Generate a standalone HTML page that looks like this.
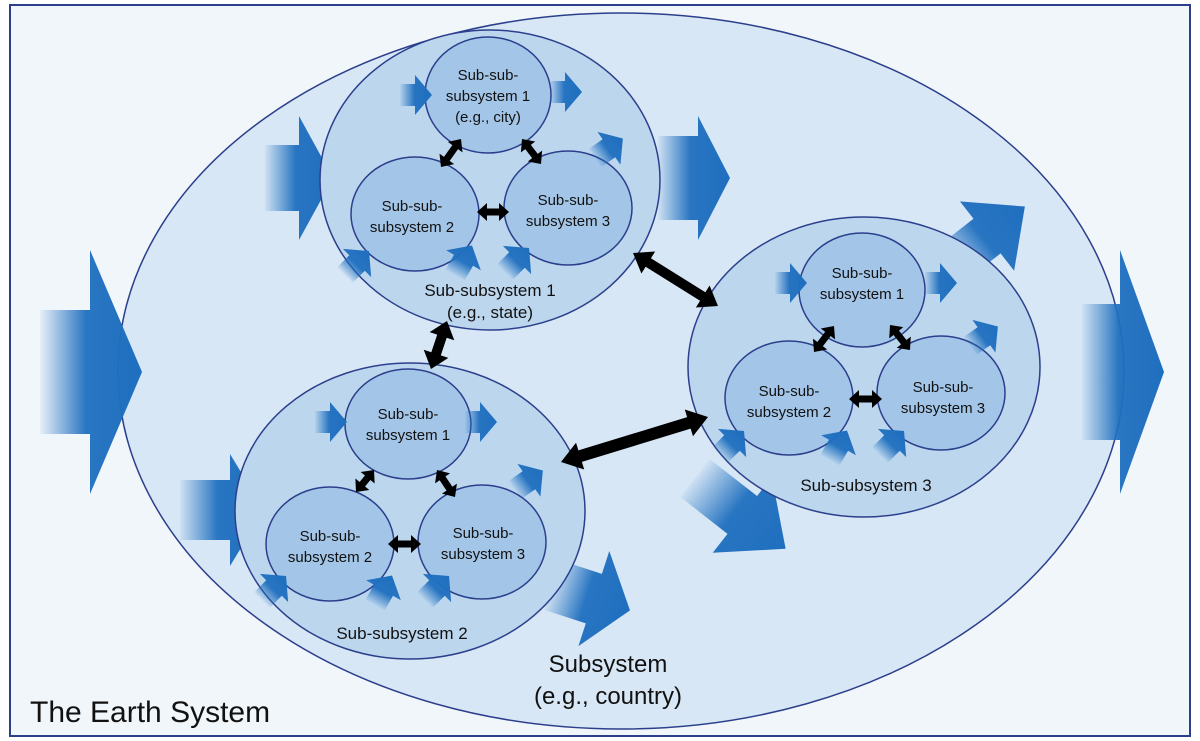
<!DOCTYPE html>
<html><head><meta charset="utf-8">
<style>
html,body{margin:0;padding:0;background:#fff;}
svg{display:block;font-family:"Liberation Sans",Arial,sans-serif;}
</style></head>
<body>
<svg id="s" width="1200" height="741" viewBox="0 0 1200 741" xmlns="http://www.w3.org/2000/svg">
<defs>
<linearGradient id="g" x1="0" y1="0" x2="1" y2="0">
<stop offset="0" stop-color="#1f6fbf" stop-opacity="0.05"/>
<stop offset="0.45" stop-color="#1f6fbf" stop-opacity="0.95"/>
<stop offset="1" stop-color="#1f6fbf"/>
</linearGradient>
</defs>
<rect x="10" y="5" width="1180" height="731" fill="#f1f6fa" stroke="#2b3f8c" stroke-width="2"/>
<ellipse cx="621" cy="371" rx="503" ry="358" fill="#d8e7f5" stroke="#2b3f8c" stroke-width="1.5"/>
<g id="arrows"></g>
<g fill="#bcd6ee" stroke="#2b3f8c" stroke-width="1.5">
<ellipse cx="490" cy="180" rx="170" ry="150"/>
<ellipse cx="864" cy="367" rx="176" ry="150"/>
<ellipse cx="410" cy="511" rx="175" ry="148"/>
</g>
<g fill="#a3c6e8" stroke="#2b3f8c" stroke-width="1.5">
<ellipse cx="488" cy="95" rx="63" ry="58"/>
<ellipse cx="415" cy="214" rx="64" ry="57"/>
<ellipse cx="568" cy="208" rx="64" ry="57"/>
<ellipse cx="862" cy="290" rx="63" ry="57"/>
<ellipse cx="789" cy="398" rx="64" ry="57"/>
<ellipse cx="941" cy="393" rx="64" ry="57"/>
<ellipse cx="408" cy="424" rx="63" ry="55"/>
<ellipse cx="330" cy="544" rx="64" ry="57"/>
<ellipse cx="482" cy="542" rx="64" ry="57"/>
</g>
<g id="small"></g>
<g id="dbl" fill="#000"></g>
<g fill="#111" font-size="15" text-anchor="middle">
<text x="488" y="80">Sub-sub-</text><text x="488" y="101">subsystem 1</text><text x="488" y="122">(e.g., city)</text>
<text x="412" y="211">Sub-sub-</text><text x="412" y="232">subsystem 2</text>
<text x="568" y="205">Sub-sub-</text><text x="568" y="226">subsystem 3</text>
<text x="862" y="278">Sub-sub-</text><text x="862" y="299">subsystem 1</text>
<text x="789" y="396">Sub-sub-</text><text x="789" y="417">subsystem 2</text>
<text x="943" y="392">Sub-sub-</text><text x="943" y="413">subsystem 3</text>
<text x="408" y="419">Sub-sub-</text><text x="408" y="440">subsystem 1</text>
<text x="330" y="541">Sub-sub-</text><text x="330" y="562">subsystem 2</text>
<text x="483" y="538">Sub-sub-</text><text x="483" y="559">subsystem 3</text>
</g>
<g fill="#111" font-size="17" text-anchor="middle">
<text x="490" y="296">Sub-subsystem 1</text><text x="490" y="318">(e.g., state)</text>
<text x="866" y="491">Sub-subsystem 3</text>
<text x="402" y="639">Sub-subsystem 2</text>
</g>
<g fill="#111" font-size="24" text-anchor="middle">
<text x="608" y="672">Subsystem</text><text x="608" y="704">(e.g., country)</text>
</g>
<text x="30" y="722" font-size="30" fill="#111">The Earth System</text>
<script>
var NS="http://www.w3.org/2000/svg";
function arr(gid,x,y,ang,L,w,h,hl){
 var p=document.createElementNS(NS,"path");
 var a=L-hl;
 p.setAttribute("d","M0,"+(-w)+" L"+a+","+(-w)+" L"+a+","+(-h)+" L"+L+",0 L"+a+","+h+" L"+a+","+w+" L0,"+w+" Z");
 p.setAttribute("transform","translate("+x+","+y+") rotate("+ang+")");
 p.setAttribute("fill","url(#g)");
 document.getElementById(gid).appendChild(p);
}
arr("arrows",40,372,0,102,62,122,52);
arr("arrows",1082,372,0,82,68,122,44);
arr("arrows",265,178,0,68,33,62,34);
arr("arrows",658,178,0,72,42,62,32);
arr("arrows",180,510,0,84,30,56,34);
arr("arrows",552,585,18,82,26,50,38);
arr("arrows",950,265,-38,95,22,44,48);
arr("arrows",695,478,38,115,24,48,55);
function sm(x,y,a,L){arr("small",x,y,a,L||34,11,20,17);}
sm(400,95,0,32);sm(550,92,0,32);
sm(595,158,-35);sm(345,275,-45);sm(455,275,-60);sm(505,272,-45);
sm(775,283,0,32);sm(925,283,0,32);
sm(970,346,-35);sm(720,455,-45);sm(830,460,-60);sm(880,455,-45);
sm(315,422,0,32);sm(465,422,0,32);
sm(515,490,-35);sm(262,600,-45);sm(375,605,-60);sm(425,600,-45);
function dbl(x1,y1,x2,y2,t,hw,hl){
 var dx=x2-x1,dy=y2-y1,L=Math.sqrt(dx*dx+dy*dy),ang=Math.atan2(dy,dx)*180/Math.PI;
 var p=document.createElementNS(NS,"path");
 p.setAttribute("d","M0,0 L"+hl+","+(-hw)+" L"+hl+","+(-t)+" L"+(L-hl)+","+(-t)+" L"+(L-hl)+","+(-hw)+" L"+L+",0 L"+(L-hl)+","+hw+" L"+(L-hl)+","+t+" L"+hl+","+t+" L"+hl+","+hw+" Z");
 p.setAttribute("transform","translate("+x1+","+y1+") rotate("+ang+")");
 document.getElementById("dbl").appendChild(p);
}
dbl(441,167,461,139,3.5,9,10);dbl(522,139,541,164,3.5,9,10);dbl(477,212,509,212,3.5,9,10);
dbl(633,253,718,306,5,13,18);dbl(447,321,431,369,5,13,16);dbl(561,462,708,417,6,14,20);
dbl(814,352,834,326,3.5,9,10);dbl(890,325,910,350,3.5,9,10);dbl(849,399,882,399,3.5,9,10);
dbl(356,492,374,470,3.5,9,10);dbl(437,470,455,497,3.5,9,10);dbl(388,544,421,544,3.5,9,10);
</script>
</svg>
</body></html>
